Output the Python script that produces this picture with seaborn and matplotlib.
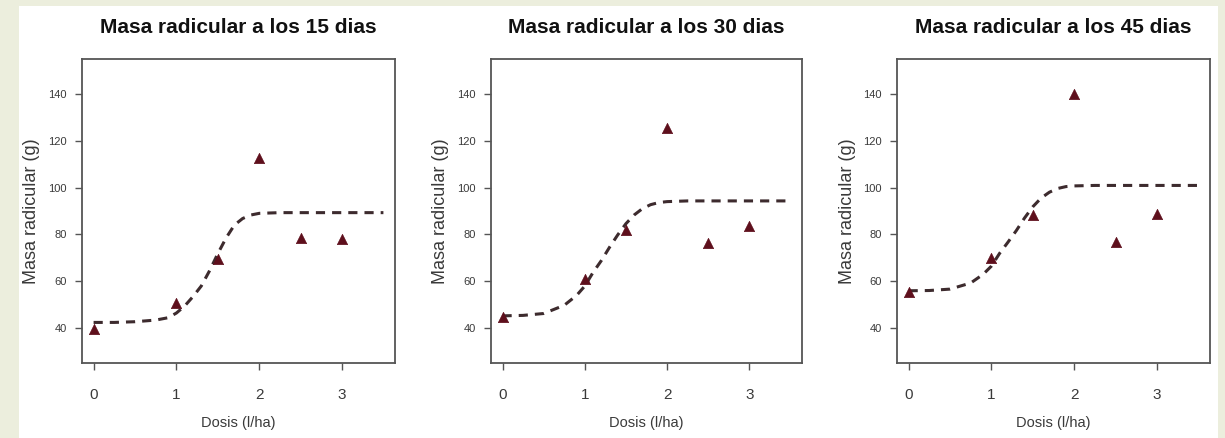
import matplotlib
matplotlib.use("Agg")
import matplotlib.pyplot as plt
import seaborn as sns
import pandas as pd
from matplotlib.patches import Rectangle

# ---- data ----
titles = ["Masa radicular a los 15 dias", "Masa radicular a los 30 dias", "Masa radicular a los 45 dias"]
dose = [0, 1, 1.5, 2, 2.5, 3]
mass_15 = [39.5, 50.6, 69.7, 112.8, 78.5, 78.0]
mass_30 = [45.0, 60.8, 82.0, 125.2, 76.5, 83.4]
mass_45 = [55.3, 69.8, 88.1, 140.0, 76.7, 88.8]

curve_x = [0, 0.25, 0.5, 0.75, 0.9, 1.0, 1.1, 1.2, 1.3, 1.4, 1.5, 1.6, 1.7, 1.8, 1.9, 2.0, 2.25, 2.5, 3.0, 3.5]
curve_15 = [42.5, 42.5, 42.8, 43.5, 44.5, 46.5, 49.5, 53.5, 58.0, 64.5, 71.8, 78.5, 84.0, 86.8, 88.3, 89.0, 89.3, 89.3, 89.3, 89.3]
curve_30 = [45.3, 45.5, 46.3, 49.8, 54.0, 58.0, 63.8, 68.8, 74.5, 79.8, 84.6, 88.3, 91.0, 92.7, 93.6, 94.0, 94.3, 94.3, 94.3, 94.3]
curve_45 = [56.0, 56.1, 56.7, 59.3, 63.0, 66.5, 72.0, 76.7, 81.6, 87.0, 91.8, 95.5, 98.0, 99.6, 100.4, 100.7, 100.9, 100.9, 100.9, 100.9]

x_ticks = [0, 1, 2, 3]
y_ticks = [40, 60, 80, 100, 120, 140]
x_label = "Dosis (l/ha)"
y_label = "Masa radicular (g)"

masses = [mass_15, mass_30, mass_45]
curves = [curve_15, curve_30, curve_45]

sns.set_theme(style="white")
plt.rcParams["font.family"] = ["Liberation Sans", "DejaVu Sans"]

W, H = 1225, 438
fig = plt.figure(figsize=(W / 100, H / 100), dpi=100)
fig.patch.set_facecolor("#eceedd")
fig.patches.append(Rectangle((19 / W, 0), (1218 - 19) / W, (H - 6) / H,
                             transform=fig.transFigure, facecolor="white",
                             edgecolor="none", zorder=-10))

panels_px = [(82, 395), (491, 802), (897, 1210)]
top_px, bot_px = 59, 363

edge = "#555555"
txt = "#3a3a3a"

for i in range(3):
    x0, x1 = panels_px[i]
    wpx = x1 - x0
    hpx = bot_px - top_px
    ax = fig.add_axes([x0 / W, (H - bot_px) / H, wpx / W, hpx / H])
    ax.set_zorder(1)
    ax.set_facecolor("white")
    dfc = pd.DataFrame({"x": curve_x, "y": curves[i]})
    sns.lineplot(data=dfc, x="x", y="y", ax=ax, color="#3d2b2e", linewidth=2.2,
                 linestyle=(0, (3.0, 2.3)), zorder=2)
    dfp = pd.DataFrame({"x": dose, "y": masses[i]})
    sns.scatterplot(data=dfp, x="x", y="y", ax=ax, marker="^", s=55,
                    color="#5e0f1c", edgecolor="#5e0f1c", linewidth=0.5, zorder=3)
    ax.set_xlim(-0.14, 3.64)
    ax.set_ylim(25.2, 154.8)
    ax.set_xticks(x_ticks)
    ax.set_xticklabels([str(t) for t in x_ticks])
    ax.set_yticks(y_ticks)
    ax.set_yticklabels([str(t) for t in y_ticks])
    ax.tick_params(axis="x", direction="out", length=5, width=1.0, color=edge,
                   labelsize=11, labelcolor=txt, pad=13, bottom=True)
    ax.tick_params(axis="y", direction="out", length=5, width=1.0, color=edge,
                   labelsize=8, labelcolor=txt, pad=6, left=True)
    for sp in ax.spines.values():
        sp.set_visible(True)
        sp.set_color(edge)
        sp.set_linewidth(1.3)
    ax.set_xlabel(x_label, fontsize=10.5, color=txt)
    ax.set_ylabel(y_label, fontsize=13, color=txt)
    ax.xaxis.set_label_coords(0.5, -(423 - bot_px) / hpx)
    ax.yaxis.set_label_coords(-50 / wpx, 0.5)
    ax.xaxis.label.set_va("center")
    ax.yaxis.label.set_va("center")
    ax.text(0.5, 1 + (top_px - 27) / hpx, titles[i], transform=ax.transAxes,
            ha="center", va="center", fontsize=15, fontweight="bold", color="#111111")

fig.savefig("out.png", dpi=100, facecolor=fig.get_facecolor())
